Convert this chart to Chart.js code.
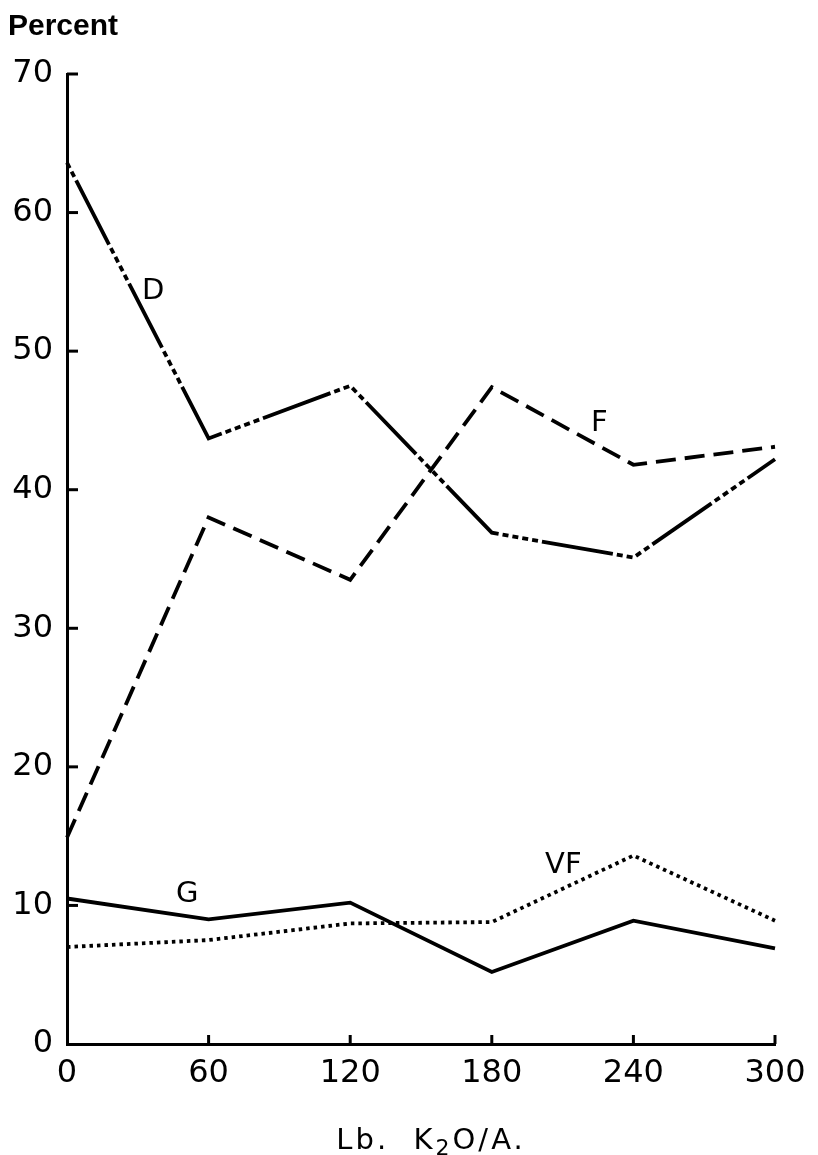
<!DOCTYPE html>
<html><head><meta charset="utf-8">
<script src="https://cdn.jsdelivr.net/npm/chart.js@4.4.1/dist/chart.umd.min.js"></script>
<style>html,body{margin:0;padding:0;background:#fff;}#wrap{width:818px;height:1155px;position:relative;}</style>
</head><body><div id="wrap"><canvas id="c" width="818" height="1155"></canvas></div>
<script>
// ---- data ----
const rates = [0, 60, 120, 180, 240, 300];          // Lb. K2O/A.
const dValues  = [63.6, 43.7, 47.5, 36.9, 35.1, 42.2];
const fValues  = [14.9, 38.0, 33.5, 47.4, 41.8, 43.1];
const gValues  = [10.5, 9.0, 10.2, 5.2, 8.9, 6.9];
const vfValues = [7.0, 7.5, 8.7, 8.8, 13.6, 8.9];
const xTickValues = [0, 60, 120, 180, 240, 300];
const yTickValues = [0, 10, 20, 30, 40, 50, 60, 70];
const seriesNames = ['D', 'F', 'G', 'VF'];
const labelX = [36.5, 225.6, 50.9, 210.3];
const labelY = [54.3, 44.8, 10.8, 12.9];
const yTitle = 'Percent';
const xTitleParts = ['Lb.  K', '2', 'O/A.'];

const toPts = vals => rates.map((r, i) => ({x: r, y: vals[i]}));
const FONT = '"DejaVu Sans", sans-serif';

const inwardTicks = {
  id: 'inwardTicks',
  afterDraw(chart) {
    const {ctx, chartArea: a, scales: {x, y}} = chart;
    ctx.save();
    ctx.strokeStyle = '#000';
    ctx.lineWidth = 3;
    ctx.lineCap = 'butt';
    yTickValues.forEach(v => {
      if (v === 0) return;
      const py = y.getPixelForValue(v);
      ctx.beginPath(); ctx.moveTo(a.left, py); ctx.lineTo(a.left + 11, py); ctx.stroke();
    });
    xTickValues.forEach(v => {
      if (v === 0) return;
      const px = x.getPixelForValue(v);
      ctx.beginPath(); ctx.moveTo(px, a.bottom); ctx.lineTo(px, a.bottom - 9); ctx.stroke();
    });
    // series labels
    ctx.fillStyle = '#000';
    ctx.font = '29px ' + FONT;
    ctx.textAlign = 'center'; ctx.textBaseline = 'middle';
    seriesNames.forEach((n, i) => {
      ctx.fillText(n, x.getPixelForValue(labelX[i]), y.getPixelForValue(labelY[i]));
    });
    // y title
    ctx.font = '600 30px "Liberation Sans", sans-serif';
    ctx.textAlign = 'left'; ctx.textBaseline = 'alphabetic';
    ctx.fillText(yTitle, 8, 35);
    // x title with subscript
    ctx.letterSpacing = '3px';
    ctx.font = '29px ' + FONT;
    const w0 = ctx.measureText(xTitleParts[0]).width;
    ctx.font = '22px ' + FONT;
    const w1 = ctx.measureText(xTitleParts[1]).width;
    ctx.font = '29px ' + FONT;
    const w2 = ctx.measureText(xTitleParts[2]).width;
    const total = w0 + w1 + w2;
    let sx = (a.left + a.right) / 2 - total / 2 + 10;
    const base = 1149;
    ctx.fillText(xTitleParts[0], sx, base); sx += w0;
    ctx.font = '22px ' + FONT;
    ctx.fillText(xTitleParts[1], sx, base + 6); sx += w1;
    ctx.font = '29px ' + FONT;
    ctx.fillText(xTitleParts[2], sx, base);
    ctx.restore();
  }
};

const common = {borderColor: '#000', borderWidth: 3.8, pointRadius: 0, fill: false, tension: 0, clip: false, borderCapStyle: 'butt', borderJoinStyle: 'miter'};

new Chart(document.getElementById('c'), {
  type: 'line',
  data: {
    datasets: [
      Object.assign({label: 'D', data: toPts(dValues), borderDash: [72, 4, 6, 4, 6, 4, 6, 4, 6, 4], borderDashOffset: 96}, common),
      Object.assign({label: 'F', data: toPts(fValues), borderDash: [20, 9]}, common),
      Object.assign({label: 'G', data: toPts(gValues)}, common),
      Object.assign({label: 'VF', data: toPts(vfValues), borderDash: [3.5, 4]}, common)
    ]
  },
  options: {
    responsive: false,
    animation: false,
    devicePixelRatio: 1,
    layout: {padding: {top: 74, right: 43, left: 0, bottom: 0}},
    plugins: {legend: {display: false}, tooltip: {enabled: false}, title: {display: false}},
    scales: {
      x: {
        type: 'linear', min: 0, max: 300,
        afterBuildTicks: s => { s.ticks = xTickValues.map(v => ({value: v})); },
        afterFit: s => { s.height = 111; },
        grid: {display: false, drawTicks: false},
        border: {display: true, color: '#000', width: 3},
        ticks: {color: '#000', font: {family: FONT, size: 32}, padding: 10, maxRotation: 0}
      },
      y: {
        type: 'linear', min: 0, max: 70,
        afterBuildTicks: s => { s.ticks = yTickValues.map(v => ({value: v})); },
        afterFit: s => { s.width = 67; },
        grid: {display: false, drawTicks: false},
        border: {display: true, color: '#000', width: 3},
        ticks: {color: '#000', font: {family: FONT, size: 32}, padding: 14}
      }
    }
  },
  plugins: [inwardTicks]
});
</script>
</body></html>
